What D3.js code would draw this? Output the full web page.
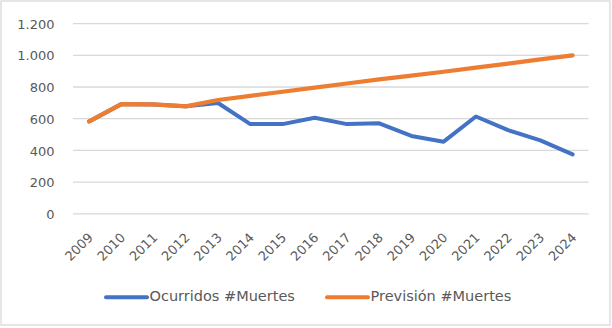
<!DOCTYPE html>
<html>
<head>
<meta charset="utf-8">
<script src="https://cdn.jsdelivr.net/npm/d3@7"></script>
<style>
  html, body { margin: 0; padding: 0; background: #fff; }
  svg { display: block; }
  text { font-family: "DejaVu Sans", sans-serif; fill: #595959; }
</style>
</head>
<body>
<svg id="chart" width="612" height="328"></svg>
<script>
const years = ["2009","2010","2011","2012","2013","2014","2015","2016","2017","2018","2019","2020","2021","2022","2023","2024"];
const ocurridos = [583, 692, 690, 678, 699, 566, 566, 606, 566, 571, 491, 455, 614, 528, 463, 375];
const prevision = [583, 692, 690, 678, 718, 744, 770, 796, 822, 848, 872, 896, 922, 948, 974, 1000];
const yTicks = [0, 200, 400, 600, 800, 1000, 1200];
const seriesNames = ["Ocurridos #Muertes", "Previsión #Muertes"];
const seriesColors = ["#4472C4", "#ED7D31"];

const svg = d3.select("#chart");

// outer border
svg.append("rect")
  .attr("x", 1).attr("y", 1).attr("width", 609).attr("height", 324)
  .attr("fill", "#fff").attr("stroke", "#d9d9d9").attr("stroke-width", 1.3);

const x = d3.scalePoint().domain(years).range([73, 588.7]).padding(0.5);
const y = d3.scaleLinear().domain([0, 1200]).range([213.8, 23.6]);

const fmt = v => d3.format(",")(v).replace(/,/g, ".");

// gridlines
svg.append("g").selectAll("line").data(yTicks).join("line")
  .attr("x1", 73).attr("x2", 588.7)
  .attr("y1", d => y(d)).attr("y2", d => y(d))
  .attr("stroke", "#d9d9d9").attr("stroke-width", 1.3);

// y axis labels
const yAxis = d3.axisLeft(y).tickValues(yTicks).tickFormat(fmt).tickSize(0).tickPadding(0);
const gy = svg.append("g").attr("transform", "translate(54.5,0)").call(yAxis);
gy.select(".domain").remove();
gy.selectAll("text")
  .attr("font-size", 13).attr("font-family", "DejaVu Sans").attr("fill", "#595959")
  .attr("dy", "0.36em").attr("x", 0);

// x axis labels
const xAxis = d3.axisBottom(x).tickSize(0).tickPadding(0);
const gx = svg.append("g").call(xAxis);
gx.select(".domain").remove();
gx.selectAll(".tick").attr("transform", d => `translate(${x(d) + 4.7},238.4)`);
gx.selectAll("text")
  .attr("font-size", 13).attr("font-family", "DejaVu Sans").attr("fill", "#595959")
  .attr("y", 0).attr("dy", 0).attr("x", 0)
  .attr("text-anchor", "end")
  .attr("transform", "rotate(-45)");

// lines
const line = d3.line().x((d, i) => x(years[i])).y(d => y(d));
[ocurridos, prevision].forEach((s, k) => {
  svg.append("path").datum(s)
    .attr("d", line)
    .attr("fill", "none")
    .attr("stroke", seriesColors[k])
    .attr("stroke-width", k === 1 ? 4.2 : 4)
    .attr("stroke-linejoin", "round")
    .attr("stroke-linecap", "round");
});

// legend
const legendX = [106, 327];
seriesNames.forEach((name, k) => {
  const g = svg.append("g").attr("transform", `translate(${legendX[k]},297.3)`);
  g.append("line").attr("x1", 0).attr("x2", 41).attr("y1", 0).attr("y2", 0)
    .attr("stroke", seriesColors[k]).attr("stroke-width", 4).attr("stroke-linecap", "round");
  g.append("text").attr("x", 43.5).attr("y", 3.7)
    .attr("font-size", 14.5).text(name);
});
</script>
</body>
</html>
